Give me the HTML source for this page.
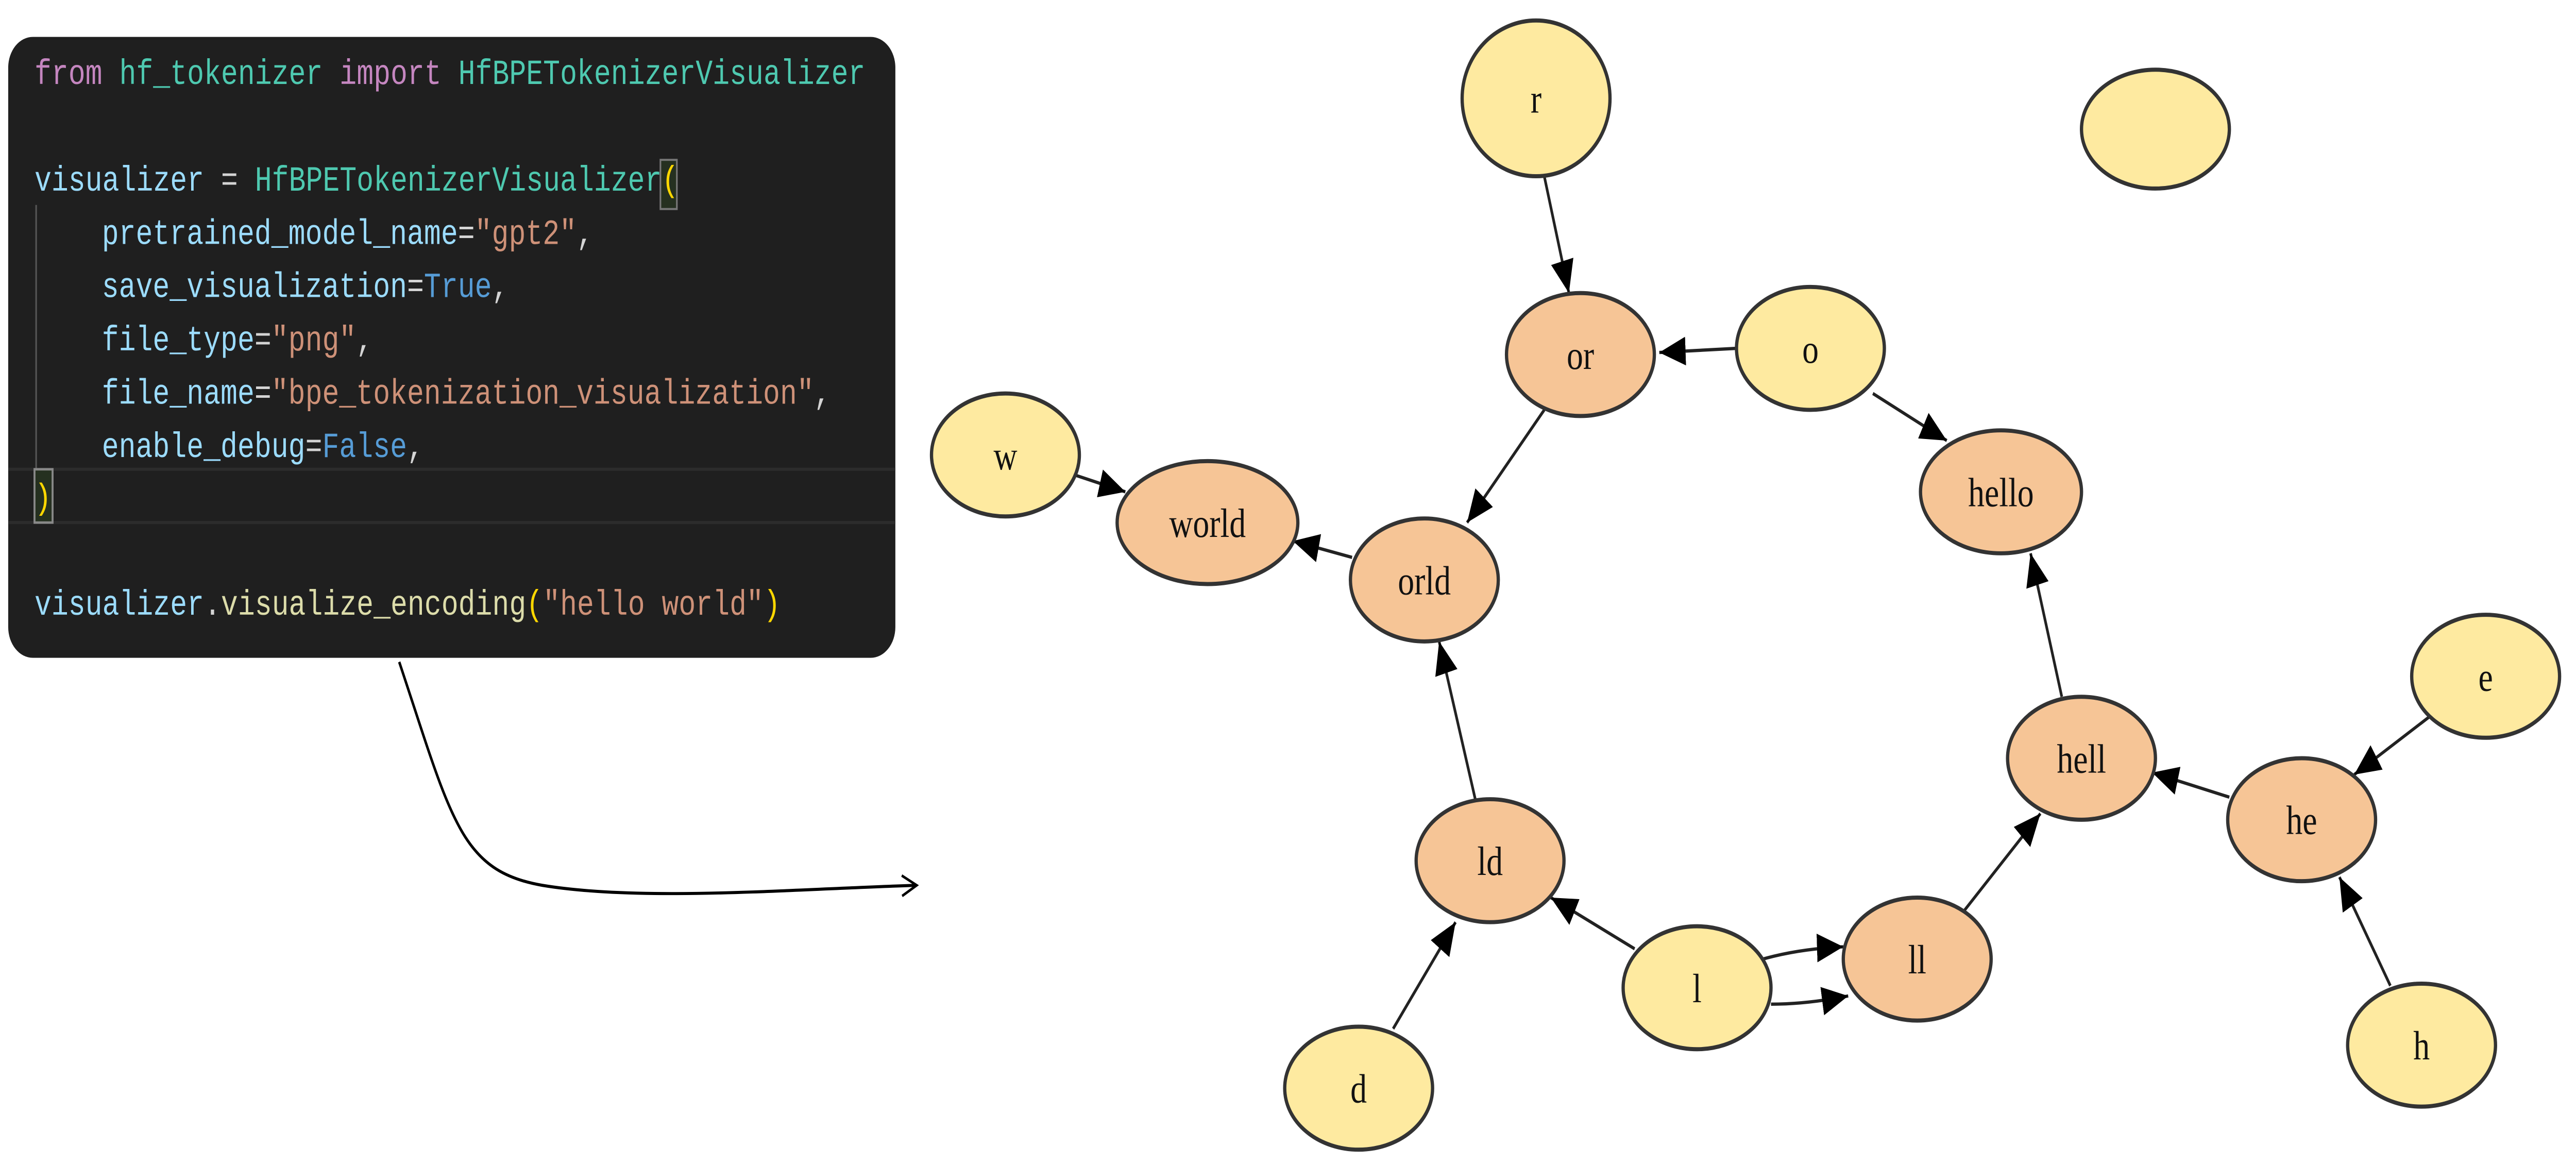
<!DOCTYPE html>
<html><head><meta charset="utf-8"><style>
html,body{margin:0;padding:0;background:#fff;width:100%;height:100%;overflow:hidden}
svg{display:block;width:100vw;height:100vh;position:absolute;left:0;top:0}
.c{font-family:"Liberation Mono",monospace;font-size:17.2px}
.n{font-family:"Liberation Serif",serif;font-size:20px;fill:#111}
</style></head><body>
<svg viewBox="0 0 1568 568" preserveAspectRatio="none" xmlns="http://www.w3.org/2000/svg">
<defs>
<marker id="a" markerUnits="userSpaceOnUse" markerWidth="18" markerHeight="14" refX="16" refY="7" orient="auto"><path d="M0,0 L16,7 L0,14 Z" fill="#000"/></marker>
<marker id="o" markerUnits="userSpaceOnUse" markerWidth="12" markerHeight="12" refX="10" refY="6" orient="auto"><path d="M1,1 L10,6 L1,11" fill="none" stroke="#000" stroke-width="1.3"/></marker>
</defs>
<rect x="5" y="18" width="540" height="303" rx="15" fill="#1f1f1f"/>
<line x1="5" y1="229" x2="545" y2="229" stroke="#2c2c2c" stroke-width="1.5"/>
<line x1="5" y1="255" x2="545" y2="255" stroke="#2c2c2c" stroke-width="1.5"/>
<line x1="22" y1="100" x2="22" y2="229" stroke="#555" stroke-width="1"/>
<rect x="21" y="229" width="11" height="26" fill="#253020" stroke="#888" stroke-width="1.2"/>
<rect x="402" y="78" width="10" height="24" fill="#253020" stroke="#777" stroke-width="1"/>
<g class="c">
<text x="21" y="41" xml:space="preserve"><tspan fill="#c586c0">from</tspan><tspan fill="#4ec9b0"> hf_tokenizer </tspan><tspan fill="#c586c0">import</tspan><tspan fill="#4ec9b0"> HfBPETokenizerVisualizer</tspan></text>
<text x="21" y="93" xml:space="preserve"><tspan fill="#9cdcfe">visualizer</tspan><tspan fill="#d4d4d4"> = </tspan><tspan fill="#4ec9b0">HfBPETokenizerVisualizer</tspan><tspan fill="#ffd700">(</tspan></text>
<text x="62" y="119" xml:space="preserve"><tspan fill="#9cdcfe">pretrained_model_name</tspan><tspan fill="#d4d4d4">=</tspan><tspan fill="#ce9178">"gpt2"</tspan><tspan fill="#d4d4d4">,</tspan></text>
<text x="62" y="145" xml:space="preserve"><tspan fill="#9cdcfe">save_visualization</tspan><tspan fill="#d4d4d4">=</tspan><tspan fill="#569cd6">True</tspan><tspan fill="#d4d4d4">,</tspan></text>
<text x="62" y="171" xml:space="preserve"><tspan fill="#9cdcfe">file_type</tspan><tspan fill="#d4d4d4">=</tspan><tspan fill="#ce9178">"png"</tspan><tspan fill="#d4d4d4">,</tspan></text>
<text x="62" y="197" xml:space="preserve"><tspan fill="#9cdcfe">file_name</tspan><tspan fill="#d4d4d4">=</tspan><tspan fill="#ce9178">"bpe_tokenization_visualization"</tspan><tspan fill="#d4d4d4">,</tspan></text>
<text x="62" y="223" xml:space="preserve"><tspan fill="#9cdcfe">enable_debug</tspan><tspan fill="#d4d4d4">=</tspan><tspan fill="#569cd6">False</tspan><tspan fill="#d4d4d4">,</tspan></text>
<text x="21" y="248" fill="#ffd700">)</text>
<text x="21" y="300" xml:space="preserve"><tspan fill="#9cdcfe">visualizer</tspan><tspan fill="#d4d4d4">.</tspan><tspan fill="#dcdcaa">visualize_encoding</tspan><tspan fill="#ffd700">(</tspan><tspan fill="#ce9178">"hello world"</tspan><tspan fill="#ffd700">)</tspan></text>
</g>
<path d="M243,323 C275,400 280,425 330,432 C390,440 480,434 558,432" fill="none" stroke="#000" stroke-width="1.5" marker-end="url(#o)"/>
<g stroke="#222" stroke-width="1.6" fill="none" marker-end="url(#a)">
<line x1="940" y1="86" x2="955" y2="143"/>
<line x1="1057" y1="170" x2="1010" y2="172"/>
<line x1="1140" y1="192" x2="1185" y2="215"/>
<line x1="940" y1="200" x2="893" y2="255"/>
<line x1="655" y1="232" x2="685" y2="240"/>
<line x1="823" y1="272" x2="787" y2="264"/>
<line x1="898" y1="390" x2="876" y2="313"/>
<line x1="848" y1="502" x2="886" y2="450"/>
<line x1="995" y1="463" x2="944" y2="438"/>
<path d="M1073,468 Q1095,463 1122,462"/>
<path d="M1078,490 Q1100,490 1125,486"/>
<line x1="1195" y1="445" x2="1242" y2="397"/>
<line x1="1255" y1="340" x2="1236" y2="270"/>
<line x1="1357" y1="389" x2="1310" y2="377"/>
<line x1="1480" y1="349" x2="1433" y2="378"/>
<line x1="1455" y1="481" x2="1424" y2="428"/>
</g>
<g stroke="#333" stroke-width="2">
<ellipse cx="935" cy="48" rx="45" ry="38" fill="#feeaa0"/>
<ellipse cx="1312" cy="63" rx="45" ry="29" fill="#feeaa0"/>
<ellipse cx="962" cy="173" rx="45" ry="30" fill="#f6c596"/>
<ellipse cx="1102" cy="170" rx="45" ry="30" fill="#feeaa0"/>
<ellipse cx="612" cy="222" rx="45" ry="30" fill="#feeaa0"/>
<ellipse cx="735" cy="255" rx="55" ry="30" fill="#f6c596"/>
<ellipse cx="1218" cy="240" rx="49" ry="30" fill="#f6c596"/>
<ellipse cx="867" cy="283" rx="45" ry="30" fill="#f6c596"/>
<ellipse cx="1513" cy="330" rx="45" ry="30" fill="#feeaa0"/>
<ellipse cx="1267" cy="370" rx="45" ry="30" fill="#f6c596"/>
<ellipse cx="1401" cy="400" rx="45" ry="30" fill="#f6c596"/>
<ellipse cx="907" cy="420" rx="45" ry="30" fill="#f6c596"/>
<ellipse cx="1033" cy="482" rx="45" ry="30" fill="#feeaa0"/>
<ellipse cx="1167" cy="468" rx="45" ry="30" fill="#f6c596"/>
<ellipse cx="827" cy="531" rx="45" ry="30" fill="#feeaa0"/>
<ellipse cx="1474" cy="510" rx="45" ry="30" fill="#feeaa0"/>
</g>
<g class="n" text-anchor="middle">
<text x="935" y="55">r</text>
<text x="962" y="180">or</text>
<text x="1102" y="177">o</text>
<text x="612" y="229">w</text>
<text x="735" y="262">world</text>
<text x="1218" y="247">hello</text>
<text x="867" y="290">orld</text>
<text x="1513" y="337">e</text>
<text x="1267" y="377">hell</text>
<text x="1401" y="407">he</text>
<text x="907" y="427">ld</text>
<text x="1033" y="489">l</text>
<text x="1167" y="475">ll</text>
<text x="827" y="538">d</text>
<text x="1474" y="517">h</text>
</g>
</svg>
</body></html>
